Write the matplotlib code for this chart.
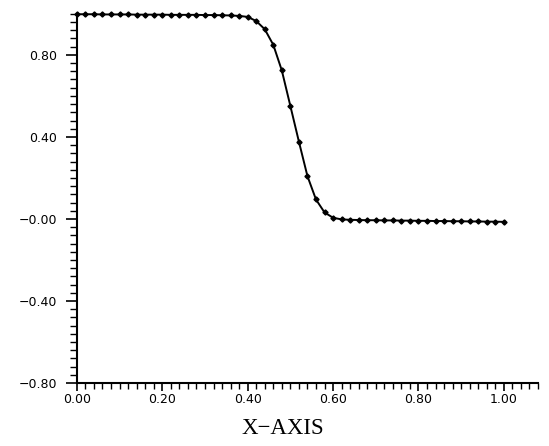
import matplotlib.pyplot as plt
from matplotlib.ticker import FixedLocator, MultipleLocator

# curve, x step 0.02
x_vals = [0.00, 0.02, 0.04, 0.06, 0.08, 0.10, 0.12, 0.14, 0.16, 0.18,
          0.20, 0.22, 0.24, 0.26, 0.28, 0.30, 0.32, 0.34, 0.36, 0.38,
          0.40, 0.42, 0.44, 0.46, 0.48, 0.50, 0.52, 0.54, 0.56, 0.58,
          0.60, 0.62, 0.64, 0.66, 0.68, 0.70, 0.72, 0.74, 0.76, 0.78,
          0.80, 0.82, 0.84, 0.86, 0.88, 0.90, 0.92, 0.94, 0.96, 0.98, 1.00]
y_vals = [0.998, 0.998, 0.998, 0.997, 0.997, 0.997, 0.997, 0.996, 0.996, 0.996,
          0.996, 0.995, 0.995, 0.995, 0.995, 0.994, 0.994, 0.993, 0.992, 0.990,
          0.985, 0.965, 0.925, 0.849, 0.724, 0.551, 0.377, 0.209, 0.095, 0.032,
          0.006, -0.002, -0.004, -0.005, -0.006, -0.006, -0.007, -0.007, -0.008, -0.008,
          -0.009, -0.009, -0.010, -0.010, -0.011, -0.011, -0.012, -0.012, -0.013, -0.013, -0.014]

xtick_pos = [0.0, 0.2, 0.4, 0.6, 0.8, 1.0]
xtick_labels = ["0.00", "0.20", "0.40", "0.60", "0.80", "1.00"]
ytick_pos = [-0.8, -0.4, 0.0, 0.4, 0.8]
ytick_labels = ["\u22120.80", "\u22120.40", "\u22120.00", "0.40", "0.80"]

fig = plt.figure(figsize=(5.49, 4.46), dpi=100)
ax = fig.add_axes([0.140, 0.141, 0.840, 0.828])

ax.plot(x_vals, y_vals, color="black", linewidth=1.4, marker="D",
        markersize=2.6, clip_on=False)

ax.set_xlim(0, 1.08)
ax.set_ylim(-0.8, 1.0)

ax.spines["top"].set_visible(False)
ax.spines["right"].set_visible(False)
for s in ["left", "bottom"]:
    ax.spines[s].set_linewidth(1.5)

ax.xaxis.set_major_locator(FixedLocator(xtick_pos))
ax.set_xticklabels(xtick_labels)
ax.xaxis.set_minor_locator(MultipleLocator(0.02))
ax.yaxis.set_major_locator(FixedLocator(ytick_pos))
ax.set_yticklabels(ytick_labels)
ax.yaxis.set_minor_locator(MultipleLocator(0.04))

ax.tick_params(axis="x", which="major", length=6, width=1.2, pad=1, labelsize=9)
ax.tick_params(axis="x", which="minor", length=4, width=1.0)
ax.tick_params(axis="y", which="major", length=8, width=1.2, pad=6, labelsize=9)
ax.tick_params(axis="y", which="minor", length=5, width=1.0)

fig.text(283 / 549, 1 - 428 / 446, "X\u2212AXIS", ha="center", va="center",
         fontsize=16.5, family="Liberation Serif")

fig.savefig("out.png", dpi=100)
